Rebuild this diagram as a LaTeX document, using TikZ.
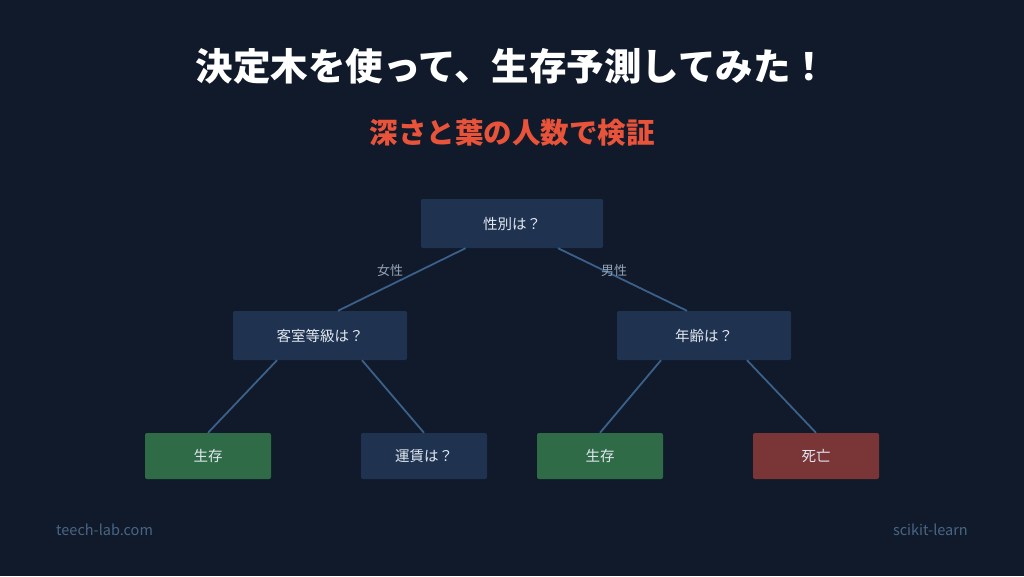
\documentclass[tikz,border=0pt]{standalone}
\usepackage{fontspec}
\setmainfont{Noto Sans CJK JP}
\usepackage{tikz}
\usetikzlibrary{positioning}
\definecolor{bg}{HTML}{101A2A}
\definecolor{qfill}{HTML}{1F3350}
\definecolor{live}{HTML}{2F6B47}
\definecolor{dead}{HTML}{7A3536}
\definecolor{edge}{HTML}{3B6089}
\definecolor{accent}{HTML}{E8533A}
\definecolor{muted}{HTML}{94A3B8}
\definecolor{foot}{HTML}{4A6584}
\definecolor{ink}{HTML}{E2E8F0}

\begin{document}
\begin{tikzpicture}[x=1pt, y=-1pt,
  question/.style={rectangle, fill=qfill, rounded corners=2pt, minimum height=49pt, text=ink, font=\fontsize{14.5}{16}\selectfont},
  leaf/.style={rectangle, rounded corners=2pt, minimum width=126pt, minimum height=46pt, text=ink, font=\fontsize{14.5}{16}\selectfont},
  branch/.style={draw=edge, line width=1.8pt},
  label/.style={font=\fontsize{13}{15}\selectfont, text=muted},
  footer/.style={font=\fontsize{14.5}{16}\selectfont, text=foot, inner sep=0pt}
]
  \fill[bg] (0,0) rectangle (1024,576);
  \useasboundingbox (0,0) rectangle (1024,576);

  % headings
  \node[font=\fontsize{37.5}{40}\selectfont\bfseries, text=white] (title) at (512,66) {決定木を使って、生存予測してみた！};
  \node[font=\fontsize{28.5}{30}\selectfont\bfseries, text=accent] (subtitle) at (512,133) {深さと葉の人数で検証};

  % tree
  \node[question, minimum width=182pt] (sex) at (512,223.5) {性別は？};
  \node[question, minimum width=174pt] (cabin) at (320,335.5) {客室等級は？};
  \node[question, minimum width=174pt] (age) at (704,335.5) {年齢は？};
  \node[leaf, fill=live] (live1) at (208,456) {生存};
  \node[question, minimum width=126pt, minimum height=46pt] (fare) at (424,456) {運賃は？};
  \node[leaf, fill=live] (live2) at (600,456) {生存};
  \node[leaf, fill=dead] (dead) at (816,456) {死亡};

  \draw[branch] ([xshift=-46.5pt]sex.south) -- ([xshift=18pt]cabin.north);
  \draw[branch] ([xshift=46pt]sex.south) -- ([xshift=-17pt]age.north);
  \draw[branch] ([xshift=-43pt]cabin.south) -- (live1.north);
  \draw[branch] ([xshift=42pt]cabin.south) -- (fare.north);
  \draw[branch] ([xshift=-43pt]age.south) -- (live2.north);
  \draw[branch] ([xshift=43pt]age.south) -- (dead.north);

  \node[label] (female) at (390,271) {女性};
  \node[label] (male) at (614,271) {男性};

  % footer
  \node[footer, anchor=west] (site) at (56,530) {teech-lab.com};
  \node[footer, anchor=east] (lib) at (968,530) {scikit-learn};
\end{tikzpicture}
\end{document}
